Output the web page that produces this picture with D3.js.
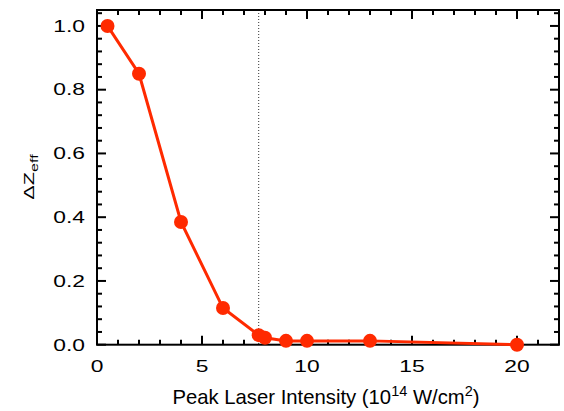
<!DOCTYPE html>
<html><head><meta charset="utf-8">
<script src="https://cdn.jsdelivr.net/npm/d3@7"></script>
<style>
body{margin:0;background:#fff;}
text{font-family:"Liberation Sans",Arial,Helvetica,sans-serif;fill:#000;}
</style></head>
<body><svg id="c" width="564" height="411"></svg>
<script>
const intensity = [0.5, 2, 4, 6, 7.7, 8, 9, 10, 13, 20];
const deltaZ = [1.0, 0.85, 0.385, 0.115, 0.03, 0.022, 0.012, 0.012, 0.012, 0.0];
const xTicks = [0, 5, 10, 15, 20];
const yTicks = [0, 0.2, 0.4, 0.6, 0.8, 1.0];
const thresholdX = [7.7];

const svg = d3.select("#c");
const m = {l:97, r:559, t:10, b:344.7};
const x = d3.scaleLinear().domain([0,22]).range([m.l,m.r]);
const y = d3.scaleLinear().domain([0,1.05]).range([m.b,m.t]);
const col = "#ff2a00";
const SX = 1.4;

// dotted threshold line
svg.selectAll(".thr").data(thresholdX).enter().append("line")
  .attr("x1",d=>x(d)).attr("x2",d=>x(d)).attr("y1",m.t).attr("y2",m.b)
  .attr("stroke","#333").attr("stroke-width",1).attr("stroke-dasharray","1,2");

const xMinor = d3.range(0,22.001,1);
const yMinor = d3.range(0,1.0501,0.04);
const g = svg.append("g");
function tickLen(v, major){return major.some(t=>Math.abs(t-v)<1e-6)?9:5;}
xMinor.forEach(v=>{
  const L = tickLen(v,xTicks);
  g.append("line").attr("x1",x(v)).attr("x2",x(v)).attr("y1",m.b).attr("y2",m.b-L).attr("stroke","#000").attr("stroke-width",2);
  g.append("line").attr("x1",x(v)).attr("x2",x(v)).attr("y1",m.t).attr("y2",m.t+L).attr("stroke","#000").attr("stroke-width",2);
});
yMinor.forEach(v=>{
  const L = tickLen(v,yTicks);
  g.append("line").attr("x1",m.l).attr("x2",m.l+L).attr("y1",y(v)).attr("y2",y(v)).attr("stroke","#000").attr("stroke-width",2);
  g.append("line").attr("x1",m.r).attr("x2",m.r-L).attr("y1",y(v)).attr("y2",y(v)).attr("stroke","#000").attr("stroke-width",2);
});
svg.append("rect").attr("x",m.l).attr("y",m.t).attr("width",m.r-m.l).attr("height",m.b-m.t)
  .attr("fill","none").attr("stroke","#000").attr("stroke-width",2);

// tick labels (horizontally stretched as in the reference)
svg.selectAll(".xl").data(xTicks).enter().append("text")
  .attr("transform",d=>`translate(${x(d)},371.5) scale(${SX},1)`)
  .attr("text-anchor","middle").attr("font-size",16.3)
  .text(d=>d);
svg.selectAll(".yl").data(yTicks).enter().append("text")
  .attr("transform",d=>`translate(85,${y(d)+5.8}) scale(${SX},1)`)
  .attr("text-anchor","end").attr("font-size",16.3)
  .text(d=>d.toFixed(1));

// axis titles
const xt = svg.append("text").attr("x",(m.l+m.r)/2+(-2)).attr("y",403.5).attr("text-anchor","middle").attr("font-size",20.3);
xt.append("tspan").text("Peak Laser Intensity (10");
xt.append("tspan").attr("font-size",14.5).attr("dy",-8).text("14");
xt.append("tspan").attr("dy",8).text(" W/cm");
xt.append("tspan").attr("font-size",14.5).attr("dy",-8).text("2");
xt.append("tspan").attr("dy",8).text(")");

const yt = svg.append("text").attr("transform",`translate(33.5,177) rotate(-90) scale(${SX},1)`)
  .attr("text-anchor","middle").attr("font-size",15.5);
yt.append("tspan").text("\u0394Z");
yt.append("tspan").attr("font-size",11.5).attr("dy",4).text("eff");

// line and markers
const pts = intensity.map((v,i)=>[v,deltaZ[i]]);
svg.append("path").datum(pts).attr("fill","none").attr("stroke",col).attr("stroke-width",3)
  .attr("d",d3.line().x(d=>x(d[0])).y(d=>y(d[1])));
svg.selectAll(".pt").data(pts).enter().append("circle")
  .attr("cx",d=>x(d[0])).attr("cy",d=>y(d[1])).attr("r",7).attr("fill",col);
</script></body></html>
